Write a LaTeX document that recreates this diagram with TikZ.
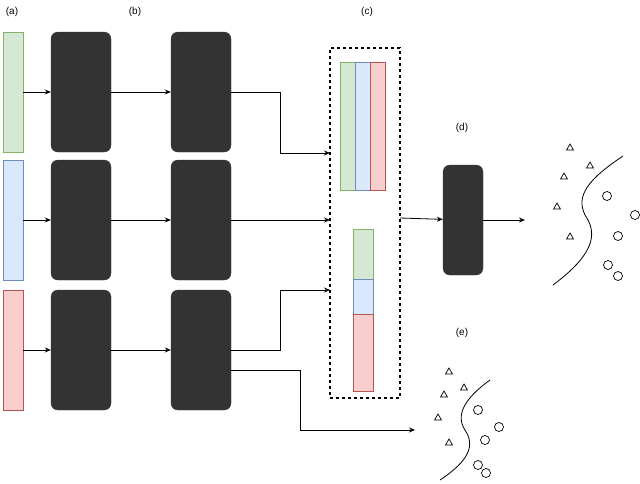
\documentclass[tikz,border=0pt]{standalone}
\usepackage{fontspec}
\setmainfont{Liberation Sans}
\usetikzlibrary{arrows.meta}
\definecolor{gF}{HTML}{D5E8D4}\definecolor{gD}{HTML}{82B366}
\definecolor{bF}{HTML}{DAE8FC}\definecolor{bD}{HTML}{6C8EBF}
\definecolor{rF}{HTML}{F8CECC}\definecolor{rD}{HTML}{B85450}
\definecolor{dk}{HTML}{333333}
\begin{document}
\begin{tikzpicture}[x=1pt,y=-1pt,
  lbl/.style={font=\fontsize{10}{12}\selectfont},
  blk/.style={draw=dk,fill=dk,rounded corners=7pt,minimum width=60pt,minimum height=120pt,inner sep=0},
  bar/.style={draw=#1D,fill=#1F,minimum width=20pt,minimum height=120pt,inner sep=0},
  arr/.style={-{Stealth[length=6pt,width=5pt]},line width=0.8pt},
  tri/.style={regular polygon,regular polygon sides=3,draw,minimum size=8pt,inner sep=0,line width=0.7pt},
  cir/.style={circle,draw,minimum size=9pt,inner sep=0,line width=0.7pt}]
\usetikzlibrary{shapes.geometric}
\useasboundingbox (0,0) rectangle (640,483);
\node[lbl] (la) at (12,12) {(a)};
\node[lbl] (lb) at (135,12) {(b)};
\node[lbl] (lc) at (367,12) {(c)};
\node[lbl] (ld) at (462,128) {(d)};
\node[lbl] (le) at (462,333) {(e)};
\foreach \c/\y/\n in {g/92/1,b/220/2,r/350/3}{
  \node[bar=\c] (in\n) at (13,\y) {};
  \node[blk] (a\n) at (81,\y) {};
  \node[blk] (b\n) at (201,\y) {};
  \draw[arr] (in\n) -- (a\n);
  \draw[arr] (a\n) -- (b\n);
}
\node[draw,dashed,line width=1.3pt,minimum width=70pt,minimum height=350pt,inner sep=0] (cat) at (365,223) {};
\node[bar=g,minimum width=15pt,minimum height=128pt] (cg) at (347.5,126) {};
\node[bar=b,minimum width=15pt,minimum height=128pt] (cb) at (362.5,126) {};
\node[bar=r,minimum width=15pt,minimum height=128pt] (cr) at (377.5,126) {};
\node[bar=g,minimum height=50pt] (sg) at (363,254) {};
\node[bar=b,minimum height=35pt] (sb) at (363,296.5) {};
\node[bar=r,minimum height=77pt] (sr) at (363,352.5) {};
\coordinate (t1) at (330,153);
\coordinate (t2) at (330,220);
\coordinate (t3) at (330,290);
\coordinate (t4) at (415,430);
\draw[arr] (b1.east) -- (280,92) |- (t1);
\draw[arr] (b2.east) -- (t2);
\draw[arr] ([yshift=0pt]b3.east) -- (280,350) |- (t3);
\draw[arr] (231,370) -- (300,370) |- (t4);
\node[blk,minimum width=40pt,minimum height=110pt] (d) at (463,220) {};
\coordinate (o) at (525,220);
\draw[arr] (400,218) -- (d);
\draw[arr] (d) -- (o);
\foreach \p in {(570,148),(590,166),(564,177),(557,207),(570,237),(449,372),(464,388),(444,395),(438,418),(449,443)}
  \node[tri] at \p {};
\foreach \p in {(607,196),(635,215),(618,236),(608,265),(618,276),(478,410),(499,427),(485,440),(478,465),(486,473)}
  \node[cir] at \p {};
\draw[line width=0.8pt] (623,156) .. controls (590,178) and (575,195) .. (585,215) .. controls (595,230) and (600,250) .. (553,285);
\draw[line width=0.8pt] (490,380) .. controls (465,398) and (455,415) .. (465,430) .. controls (475,445) and (470,460) .. (440,480);
\end{tikzpicture}
\end{document}
